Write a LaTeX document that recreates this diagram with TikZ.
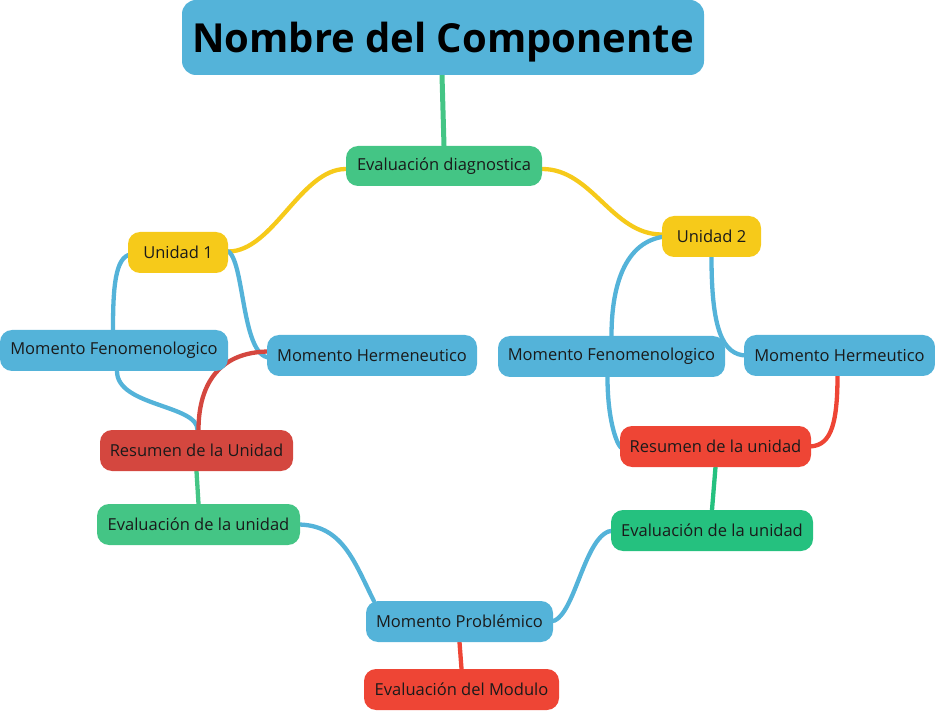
\documentclass[tikz,border=0pt]{standalone}
\usepackage{fontspec}
\setmainfont{Open Sans}
\usetikzlibrary{backgrounds}
\definecolor{cblue}{HTML}{54B3D9}
\definecolor{cgreen}{HTML}{44C585}
\definecolor{cgreenb}{HTML}{25C17F}
\definecolor{cyellow}{HTML}{F6CA1A}
\definecolor{credA}{HTML}{D4473F}
\definecolor{credB}{HTML}{EE4535}
\definecolor{ctext}{HTML}{1A1A1A}
\tikzset{
  box/.style={rectangle, rounded corners=12pt, text=ctext, inner sep=0pt,
    minimum height=41pt, font=\fontsize{16.5}{18}\selectfont},
  link/.style={line width=4.3pt, line cap=round},
}
\begin{document}
\begin{tikzpicture}[x=1pt,y=-1pt]
\useasboundingbox (0,0) rectangle (935,711);
\node[box, fill=cblue, minimum width=522pt, minimum height=75pt, rounded corners=14pt,
  font=\fontsize{40}{44}\selectfont\bfseries, text=black] (title) at (443,37.5) {\raisebox{-15pt}[0pt][0pt]{Nombre del Componente}};
\node[box, fill=cgreen, minimum width=196pt, minimum height=40pt] (ediag) at (444,166) {Evaluación diagnostica};
\node[box, fill=cyellow, minimum width=100pt] (u1) at (178,252.5) {Unidad 1};
\node[box, fill=cyellow, minimum width=99pt] (u2) at (711.5,236.5) {Unidad 2};
\node[box, fill=cblue, minimum width=228pt] (mfl) at (114,350.5) {Momento Fenomenologico};
\node[box, fill=cblue, minimum width=210pt] (mhl) at (372,355.5) {Momento Hermeneutico};
\node[box, fill=credA, minimum width=193pt] (resl) at (196.5,450.5) {Resumen de la Unidad};
\node[box, fill=cgreen, minimum width=203pt] (evl) at (198.5,524.5) {Evaluación de la unidad};
\node[box, fill=cblue, minimum width=227pt] (mfr) at (611.5,356.5) {Momento Fenomenologico};
\node[box, fill=cblue, minimum width=191pt] (mhr) at (839.5,355.5) {Momento Hermeutico};
\node[box, fill=credB, minimum width=191pt] (resr) at (715.5,446.5) {Resumen de la unidad};
\node[box, fill=cgreenb, minimum width=202pt] (evr) at (712,530.5) {Evaluación de la unidad};
\node[box, fill=cblue, minimum width=187pt] (mp) at (459.5,621.5) {Momento Problémico};
\node[box, fill=credB, minimum width=195pt] (evm) at (461.5,689.5) {Evaluación del Modulo};
\begin{scope}[on background layer]
\draw[link, cgreen, line width=5pt] ([xshift=-1pt]title.south) -- (ediag.north);
\draw[link, cyellow] ([yshift=-3pt]ediag.west) .. controls +(-45,0) and +(45,0) .. ([yshift=1pt]u1.east);
\draw[link, cyellow] ([yshift=-3pt]ediag.east) .. controls +(50,0) and +(-50,0) .. ([yshift=2pt]u2.west);
\draw[link, cblue] ([yshift=-2pt,xshift=3pt]u1.west) .. controls +(-16,2) and +(0,-40) .. ([xshift=-1pt]mfl.north);
\draw[link, cblue] ([yshift=2pt,xshift=-3pt]u1.east) .. controls +(20,0) and +(-30,0) .. ([yshift=-2pt,xshift=3pt]mhl.west);
\draw[link, cblue] ([xshift=3pt]mfl.south) .. controls +(0,35) and +(0,-25) .. ([xshift=1pt]resl.north);
\draw[link, credA] ([yshift=4pt,xshift=3pt]mhl.west) .. controls +(-55,0) and +(0,-40) .. ([xshift=2pt]resl.north);
\draw[link, cgreen] (resl.south) -- (evl.north);
\draw[link, cblue] ([xshift=-3pt]evl.east) .. controls +(45,0) and +(-20,-40) .. ([xshift=8pt]mp.north west);
\draw[link, cblue] ([xshift=-3pt]mp.east) .. controls +(25,0) and +(-30,0) .. ([xshift=3pt]evr.west);
\draw[link, credB] (mp.south) -- (evm.north);
\draw[link, cblue] ([xshift=3pt]u2.west) .. controls +(-40,5) and +(0,-50) .. (mfr.north);
\draw[link, cblue] (u2.south) .. controls +(0,70) and +(-25,0) .. ([xshift=3pt]mhr.west);
\draw[link, cblue] ([xshift=-4pt]mfr.south) .. controls +(0,45) and +(-5,0) .. ([xshift=3pt,yshift=-2pt]resr.west);
\draw[link, credB] ([xshift=-2pt]mhr.south) .. controls +(0,55) and +(20,0) .. ([xshift=-3pt]resr.east);
\draw[link, cgreenb] (resr.south) -- (evr.north);
\end{scope}
\end{tikzpicture}
\end{document}
